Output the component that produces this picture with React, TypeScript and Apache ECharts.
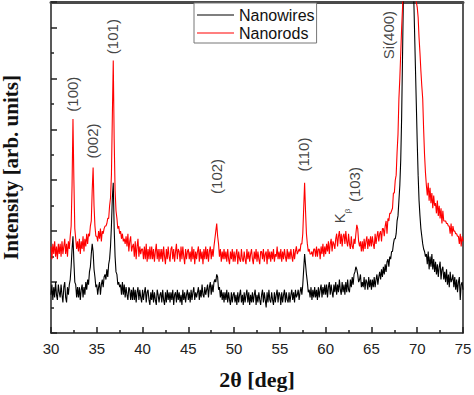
import React, { useEffect, useRef } from "react";
import * as echarts from "echarts";

// 2θ sampling: 30.0 .. 75.0 in 0.1° steps
const thetaStart = 30;
const thetaStep = 0.1;

// Nanowires (black) intensity, rows of 1°
const nanowires: number[] = [
  1.5,1.9,1.3,1.8,1.4,2.0,1.5,1.3,1.9,1.6,
  1.4,1.9,1.5,1.2,1.8,2.0,1.4,1.2,1.8,1.5,
  1.9,2.1,2.6,3.3,3.8,2.8,2.0,1.9,1.4,1.8,
  1.4,1.8,1.3,1.7,1.9,1.4,1.8,1.5,2.0,1.7,
  2.1,1.9,2.4,2.6,3.1,3.5,3.2,2.5,2.2,1.8,
  1.9,1.5,1.8,2.0,1.5,1.9,2.1,1.8,2.2,2.3,
  2.1,2.5,2.2,2.7,2.9,3.4,4.2,5.3,5.9,4.1,
  3.0,2.4,2.3,1.9,2.0,1.8,1.9,1.5,2.0,1.5,
  1.9,1.4,1.8,1.5,1.3,1.8,1.7,1.3,1.7,1.3,
  1.8,1.3,1.7,1.2,1.6,1.8,1.3,1.7,1.4,1.2,
  1.7,1.3,1.6,1.8,1.2,1.6,1.7,1.3,1.1,1.6,
  1.3,1.7,1.2,1.6,1.3,1.1,1.7,1.5,1.2,1.5,
  1.6,1.2,1.7,1.3,1.1,1.6,1.2,1.7,1.3,1.6,
  1.2,1.6,1.3,1.7,1.1,1.5,1.6,1.2,1.7,1.3,
  1.6,1.2,1.5,1.1,1.7,1.3,1.6,1.2,1.5,1.7,
  1.3,1.6,1.2,1.7,1.3,1.6,1.8,1.3,1.6,1.4,
  1.6,1.8,1.3,1.7,1.4,1.9,1.5,1.4,1.8,1.5,
  1.7,1.9,1.4,1.8,2.0,1.5,1.9,1.6,2.0,2.1,
  2.0,2.3,2.2,1.7,1.8,1.4,1.7,1.3,1.6,1.2,
  1.6,1.3,1.7,1.2,1.6,1.3,1.1,1.6,1.2,1.5,
  1.6,1.2,1.5,1.1,1.6,1.2,1.5,1.7,1.2,1.5,
  1.1,1.6,1.2,1.5,1.7,1.2,1.6,1.1,1.5,1.2,
  1.6,1.2,1.5,1.7,1.1,1.5,1.2,1.6,1.3,1.1,
  1.5,1.7,1.2,1.6,1.3,1.0,1.6,1.2,1.7,1.3,
  1.2,1.6,1.3,1.1,1.6,1.2,1.5,1.7,1.2,1.6,
  1.5,1.1,1.6,1.2,1.5,1.7,1.2,1.6,1.3,1.2,
  1.6,1.2,1.5,1.7,1.3,1.6,1.2,1.7,1.4,1.5,
  1.7,1.3,1.6,1.8,1.5,1.9,2.5,3.1,2.7,2.3,
  2.0,1.6,1.7,1.4,1.8,1.3,1.7,1.4,1.8,1.4,
  1.7,1.3,1.8,1.4,1.7,1.9,1.4,1.8,1.5,1.9,
  1.5,1.9,1.4,1.8,2.0,1.5,1.9,1.6,1.4,1.9,
  1.6,2.0,1.5,1.9,1.6,2.1,1.7,1.5,2.0,1.6,
  1.9,1.5,2.0,1.6,2.1,1.7,1.6,2.1,1.8,2.2,
  1.9,2.3,2.4,2.6,2.5,2.3,2.0,2.1,2.3,1.8,
  2.0,1.8,2.2,1.7,2.1,2.0,1.7,2.2,1.8,2.1,
  1.7,2.1,1.8,2.2,1.8,2.1,2.3,1.9,2.2,2.4,
  2.1,2.5,2.2,2.6,2.3,2.7,2.4,2.8,2.9,2.6,
  3.0,2.9,3.2,3.2,3.5,3.7,3.7,3.9,4.4,4.6,
  5.2,5.8,6.8,8.5,11.0,13.5,16,18,19,20,
  20,19,18,17,16,15,13.5,12,10.5,9.0,
  7.5,6.2,5.2,4.6,4.1,3.8,3.5,3.3,3.2,3.0,
  3.1,2.7,3.2,2.5,3.0,2.6,3.1,2.5,2.9,2.4,
  2.8,2.3,2.7,2.2,2.6,2.8,2.1,2.5,2.6,2.1,
  2.4,2.0,2.5,1.9,2.3,1.8,2.4,2.0,2.1,2.3,
  1.8,2.2,1.7,2.1,1.6,2.0,2.2,1.3,1.9,2.0,
  1.7,
];

// Nanorods (red) intensity, rows of 1°
const nanorods: number[] = [
  3.4,2.9,3.5,3.1,3.6,3.0,3.4,2.9,3.5,3.1,
  3.5,3.0,3.6,3.1,3.4,3.7,3.1,3.5,3.0,3.6,
  3.3,3.8,4.2,5.8,8.4,6.0,4.1,3.7,3.3,3.6,
  3.2,3.7,3.1,3.6,3.3,3.8,3.2,3.7,3.4,3.9,
  3.5,3.9,3.8,4.2,4.4,5.6,6.5,5.0,4.2,3.8,
  3.8,3.6,4.0,3.7,4.1,3.6,4.0,3.9,4.1,4.2,
  4.2,4.3,4.5,4.5,5.0,5.3,6.2,8.5,10.7,7.6,
  5.6,4.8,4.5,4.1,4.2,3.9,4.0,3.7,3.9,3.6,
  3.7,3.5,3.8,3.4,3.9,3.2,3.6,3.8,3.2,3.4,
  3.5,3.0,3.6,2.9,3.4,3.7,3.0,3.4,3.1,3.3,
  3.3,2.9,3.4,2.9,3.5,2.8,3.3,2.9,3.4,2.9,
  3.4,2.9,3.3,2.8,3.2,3.5,2.9,3.3,2.8,3.3,
  2.9,3.3,2.8,3.4,3.0,2.7,3.3,2.9,3.4,3.0,
  2.8,3.3,3.4,2.9,3.3,2.8,3.2,3.5,2.9,3.3,
  3.2,2.8,3.4,2.9,3.4,3.0,2.7,3.3,2.9,3.2,
  3.3,2.9,3.2,2.8,3.4,2.9,3.3,2.7,3.2,2.9,
  3.2,3.4,2.8,3.3,2.9,3.2,2.7,3.3,2.9,3.4,
  2.9,3.3,2.8,3.2,3.4,2.9,3.3,3.0,3.4,3.7,
  4.0,4.3,3.8,3.5,3.0,3.3,2.8,3.2,2.9,3.3,
  2.9,3.2,2.8,3.3,2.9,2.7,3.2,2.9,3.3,2.8,
  3.2,2.8,3.1,3.3,2.7,3.2,2.9,2.8,3.3,2.9,
  2.8,3.2,2.9,2.7,3.3,2.9,3.2,2.8,3.1,3.3,
  2.9,2.7,3.2,2.9,3.3,2.8,3.2,2.9,2.7,3.2,
  3.2,2.9,3.3,2.8,3.1,3.2,2.7,3.3,2.9,3.2,
  2.8,3.2,2.9,3.3,2.8,3.1,3.0,3.4,2.9,3.2,
  2.9,3.3,2.8,3.2,2.9,3.3,3.0,2.8,3.3,2.9,
  3.2,2.9,3.3,3.0,2.8,3.3,2.9,3.2,3.4,3.1,
  3.2,3.3,3.2,3.5,3.5,3.9,4.9,5.9,4.8,3.9,
  3.5,3.2,3.3,3.1,3.1,3.2,3.0,3.3,3.3,3.0,
  3.4,3.0,3.3,3.3,2.9,3.4,3.1,3.5,3.0,3.4,
  3.1,3.5,3.2,3.6,3.1,3.5,3.7,3.2,3.6,3.5,
  3.3,3.7,3.9,3.4,3.8,4.0,3.5,3.9,3.4,3.8,
  3.9,3.5,4.0,3.6,3.4,3.9,3.5,3.3,3.8,3.4,
  3.3,3.7,3.5,3.9,4.25,4.1,3.6,3.4,3.6,3.2,
  3.6,3.2,3.7,3.3,3.6,3.8,3.3,3.7,3.4,3.8,
  3.4,3.8,3.5,3.3,3.9,3.5,3.8,4.0,3.6,3.9,
  4.0,3.6,4.1,4.1,3.8,4.2,4.4,3.9,4.5,4.4,
  4.7,4.7,4.8,4.9,5.5,5.5,6.0,6.2,7.1,7.8,
  9.2,10.0,11.0,12.0,12.8,14,16,18,19,20,
  20,20,19,18,17.5,17,16,15,14,13.0,
  12.8,12.4,11.6,11.0,10.3,9.7,9.2,8.0,7.0,6.3,
  5.8,5.4,5.9,5.2,5.7,5.1,5.5,4.9,5.4,5.0,
  5.1,4.7,5.2,4.6,5.0,4.5,4.9,4.3,4.8,4.4,
  4.4,4.4,4.3,4.3,4.2,4.2,3.9,4.3,3.8,4.2,
  4.0,4.0,3.9,3.9,3.8,3.8,3.5,3.9,3.4,3.8,
  3.6,
];

// Peak annotations (2θ, intensity position of label centre)
const peakLabels = ["(100)", "(002)", "(101)", "(102)", "(110)", "(103)", "Si(400)"];
const peakLabelX = [32.4, 34.57, 36.75, 48.09, 57.57, 63.12, 66.83];
const peakLabelY = [9.38, 7.54, 11.64, 6.15, 7.01, 5.83, 11.7];
const kbetaX = 61.5;
const kbetaY = 4.6;

const seriesNames = ["Nanowires", "Nanorods"];
const xTicks = { min: 30, max: 75, interval: 5 };
const yRange = { min: 0, max: 13, interval: 2 };

export default function App() {
  const ref = useRef<HTMLDivElement>(null);
  useEffect(() => {
    if (!ref.current) return;
    const chart = echarts.init(ref.current, null, { renderer: "svg" });
    const toPairs = (arr: number[]) =>
      arr.map((v, i) => [+(thetaStart + i * thetaStep).toFixed(2), v]);
    const annData = peakLabels.map((t, i) => [peakLabelX[i], peakLabelY[i], t]);
    const sans = "Liberation Sans, Arial, sans-serif";
    const serif = "Liberation Serif, Times New Roman, serif";
    chart.setOption({
      animation: false,
      grid: { left: 51, right: 11, top: 2, bottom: 62, show: false, containLabel: false, outerBoundsMode: "none" },
      legend: {
        data: seriesNames,
        orient: "vertical",
        left: 194,
        top: 3,
        padding: [4, 2, 2, 3],
        itemGap: 2,
        itemWidth: 37,
        itemHeight: 1.2,
        icon: "rect",
        borderColor: "#777",
        borderWidth: 1,
        backgroundColor: "#fff",
        textStyle: { fontSize: 16, lineHeight: 16, fontFamily: sans, color: "#111" },
      },
      xAxis: [
        {
          type: "value",
          min: xTicks.min,
          max: xTicks.max,
          interval: xTicks.interval,
          position: "bottom",
          name: "2θ [deg]",
          nameLocation: "middle",
          nameGap: 35,
          nameTextStyle: { fontSize: 22, fontWeight: "bold", fontFamily: serif, color: "#111" },
          axisLine: { show: true, onZero: false, lineStyle: { color: "#222", width: 1.5 } },
          axisTick: { show: true, inside: true, length: 6, lineStyle: { color: "#222", width: 1.5 } },
          minorTick: { show: true, splitNumber: 2, length: 3, lineStyle: { color: "#222", width: 1.5 } },
          axisLabel: { fontSize: 15, fontFamily: sans, color: "#222", margin: 8 },
          splitLine: { show: false },
        },
        {
          type: "value",
          min: xTicks.min,
          max: xTicks.max,
          position: "top",
          axisLine: { show: true, onZero: false, lineStyle: { color: "#4a4a4a", width: 3 } },
          axisTick: { show: false },
          axisLabel: { show: false },
          splitLine: { show: false },
        },
      ],
      yAxis: [
        {
          type: "value",
          min: yRange.min,
          max: yRange.max,
          interval: yRange.interval,
          position: "left",
          name: "Intensity [arb. units]",
          nameLocation: "middle",
          nameGap: 30,
          nameTextStyle: { fontSize: 21, lineHeight: 20, fontWeight: "bold", fontFamily: serif, color: "#111" },
          axisLine: { show: true, onZero: false, lineStyle: { color: "#222", width: 1.5 } },
          axisTick: { show: true, inside: true, length: 6, lineStyle: { color: "#222", width: 1.5 } },
          minorTick: { show: true, splitNumber: 2, length: 3, lineStyle: { color: "#222", width: 1.5 } },
          axisLabel: { show: false },
          splitLine: { show: false },
        },
        {
          type: "value",
          min: yRange.min,
          max: yRange.max,
          position: "right",
          axisLine: { show: true, onZero: false, lineStyle: { color: "#222", width: 1.5 } },
          axisTick: { show: false },
          axisLabel: { show: false },
          splitLine: { show: false },
        },
      ],
      series: [
        {
          name: seriesNames[0],
          type: "line",
          data: toPairs(nanowires),
          showSymbol: false,
          symbol: "none",
          clip: true,
          color: "#000000",
          lineStyle: { color: "#000000", width: 1.1 },
          z: 2,
        },
        {
          name: seriesNames[1],
          type: "line",
          data: toPairs(nanorods),
          showSymbol: false,
          symbol: "none",
          clip: true,
          color: "#ff0000",
          lineStyle: { color: "#ff0000", width: 1.1 },
          z: 3,
        },
        {
          type: "scatter",
          data: annData,
          symbolSize: 0,
          silent: true,
          z: 5,
          label: {
            show: true,
            position: "inside",
            rotate: 90,
            align: "center",
            verticalAlign: "middle",
            formatter: (p: any) => p.data[2],
            fontSize: 15,
            fontFamily: sans,
            color: "#111",
          },
        },
        {
          type: "scatter",
          data: [[kbetaX, kbetaY]],
          symbolSize: 0,
          silent: true,
          z: 5,
          label: {
            show: true,
            position: "inside",
            rotate: 90,
            align: "center",
            verticalAlign: "middle",
            formatter: "{k|K}{b|β}",
            rich: {
              k: { fontSize: 15, fontFamily: sans, color: "#111", lineHeight: 16, verticalAlign: "bottom" },
              b: { fontSize: 8, fontFamily: sans, color: "#111", lineHeight: 16, verticalAlign: "bottom", padding: [0, 0, -4, 0] },
            },
          },
        },
      ],
    });
    return () => chart.dispose();
  }, []);
  return (
    <div
      ref={ref}
      style={{ position: "fixed", left: 0, top: 0, width: 474, height: 395, background: "#fff" }}
    />
  );
}
